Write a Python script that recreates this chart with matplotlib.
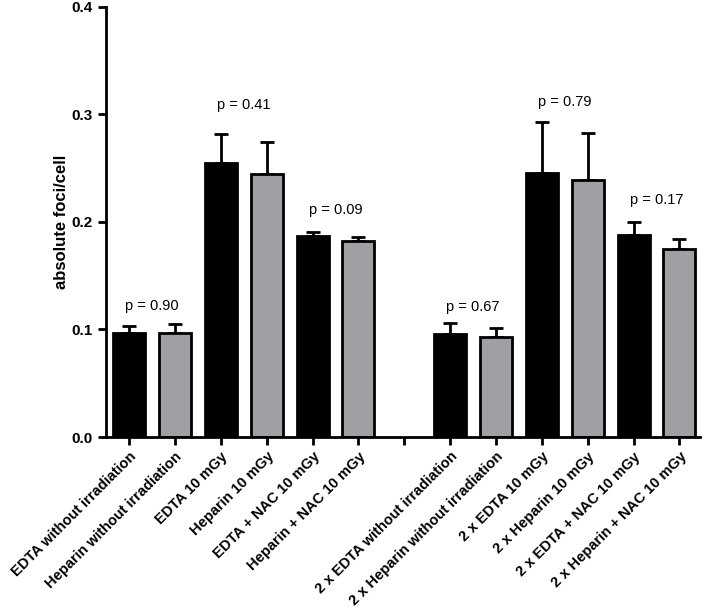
import matplotlib
matplotlib.use("Agg")
import matplotlib.pyplot as plt
import numpy as np

categories = ["EDTA without irradiation", "Heparin without irradiation",
              "EDTA 10 mGy", "Heparin 10 mGy",
              "EDTA + NAC 10 mGy", "Heparin + NAC 10 mGy",
              "",
              "2 x EDTA without irradiation", "2 x Heparin without irradiation",
              "2 x EDTA 10 mGy", "2 x Heparin 10 mGy",
              "2 x EDTA + NAC 10 mGy", "2 x Heparin + NAC 10 mGy"]
values = [0.097, 0.097, 0.255, 0.245, 0.187, 0.182,
          None,
          0.096, 0.093, 0.246, 0.239, 0.188, 0.175]
errors = [0.006, 0.008, 0.027, 0.029, 0.004, 0.004,
          None,
          0.010, 0.008, 0.047, 0.044, 0.012, 0.009]
colors = ["black", "#a0a0a4"] * 3 + [None] + ["black", "#a0a0a4"] * 3
p_labels = ["p = 0.90", "p = 0.41", "p = 0.09", "p = 0.67", "p = 0.79", "p = 0.17"]
p_x = [0.5, 2.5, 4.5, 7.5, 9.5, 11.5]
p_y = [0.122, 0.309, 0.211, 0.121, 0.312, 0.220]

plt.rcParams['font.family'] = ['Liberation Sans', 'DejaVu Sans']

fig = plt.figure(figsize=(7.05, 6.1), dpi=100)
ax = fig.add_axes([0.150, 0.2836, 0.843, 0.705])

for i, (v, e, c) in enumerate(zip(values, errors, colors)):
    if v is None:
        continue
    ax.errorbar(i, v, yerr=[[0], [e]], fmt='none', ecolor='black',
                elinewidth=2, capsize=5, capthick=2, zorder=1)
    ax.bar(i, v, width=0.7, color=c, edgecolor='black', linewidth=2, zorder=2)

for lab, x, y in zip(p_labels, p_x, p_y):
    ax.text(x, y, lab, ha='center', va='center', fontsize=10.5)

ax.set_xlim(-0.51, 12.45)
ax.set_ylim(0, 0.4)
ax.set_yticks([0.0, 0.1, 0.2, 0.3, 0.4])
ax.set_yticklabels(["0.0", "0.1", "0.2", "0.3", "0.4"], fontweight='bold', fontsize=11)
ax.set_xticks(range(len(categories)))
ax.set_xticklabels(categories, rotation=45, ha='right', rotation_mode='anchor',
                   fontweight='bold', fontsize=10.5)
ax.set_ylabel("absolute foci/cell", fontweight='bold', fontsize=12)
ax.yaxis.set_label_coords(-0.061, 0.5)

for s in ['top', 'right']:
    ax.spines[s].set_visible(False)
for s in ['left', 'bottom']:
    ax.spines[s].set_linewidth(2)
ax.tick_params(axis='both', width=2, length=6, direction='out')
ax.tick_params(axis='x', pad=3)

fig.savefig("out.png", dpi=100)
